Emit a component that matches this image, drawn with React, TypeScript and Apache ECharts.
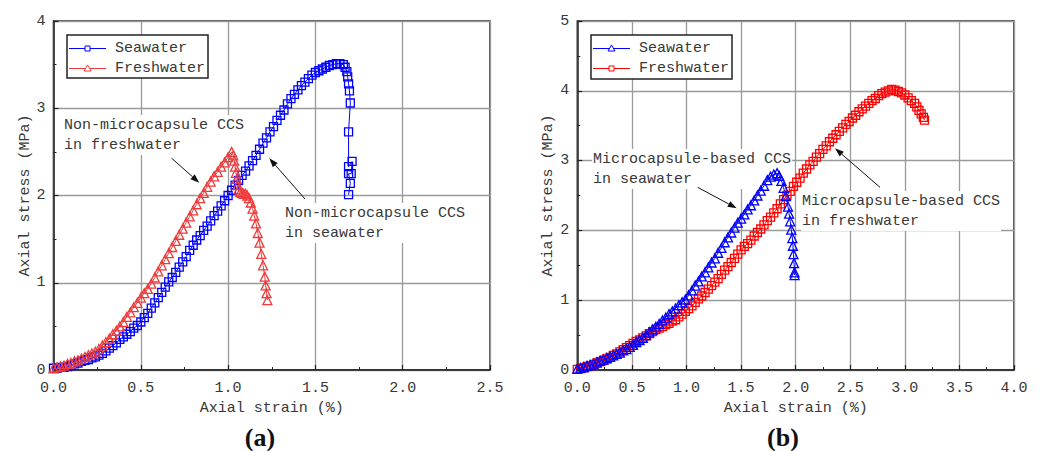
import React, { useEffect, useRef } from "react";
import * as echarts from "echarts";

// ---------- data (strain %, stress MPa) ----------
const seaA: number[][] = [
  [0.00,0.02],[0.02,0.02],[0.04,0.03],[0.06,0.03],[0.08,0.04],[0.10,0.05],[0.12,0.07],[0.14,0.08],[0.16,0.10],[0.18,0.11],
  [0.20,0.12],[0.22,0.14],[0.24,0.15],[0.26,0.17],[0.28,0.19],[0.30,0.22],[0.32,0.25],[0.34,0.28],[0.36,0.31],[0.38,0.35],
  [0.40,0.38],[0.42,0.41],[0.44,0.44],[0.46,0.48],[0.48,0.51],[0.50,0.55],[0.52,0.60],[0.54,0.65],[0.56,0.71],[0.58,0.77],
  [0.60,0.83],[0.62,0.89],[0.64,0.95],[0.66,1.01],[0.68,1.06],[0.70,1.12],[0.72,1.18],[0.74,1.24],[0.76,1.30],[0.78,1.37],
  [0.80,1.43],[0.82,1.49],[0.84,1.54],[0.86,1.60],[0.88,1.65],[0.90,1.71],[0.92,1.77],[0.94,1.82],[0.96,1.88],[0.98,1.94],
  [1.00,2.00],[1.02,2.06],[1.04,2.12],[1.06,2.17],[1.08,2.23],[1.10,2.28],[1.12,2.34],[1.14,2.40],[1.16,2.46],[1.18,2.53],
  [1.20,2.60],[1.22,2.66],[1.24,2.73],[1.26,2.79],[1.28,2.86],[1.30,2.92],[1.32,2.98],[1.34,3.05],[1.36,3.11],[1.38,3.16],
  [1.40,3.21],[1.42,3.26],[1.44,3.30],[1.46,3.34],[1.48,3.38],[1.50,3.41],[1.52,3.43],[1.54,3.45],[1.56,3.47],[1.58,3.49],
  [1.60,3.50],[1.62,3.51],[1.64,3.51],[1.66,3.50],[1.67,3.47],[1.68,3.42],[1.685,3.36],[1.69,3.28],[1.695,3.20],[1.70,3.06],
  [1.69,2.73],[1.69,2.33],[1.71,2.39],[1.705,2.25],[1.69,2.25],[1.70,2.14],[1.69,2.01]
];
const freshA: number[][] = [
  [0.00,0.02],[0.02,0.03],[0.04,0.04],[0.06,0.05],[0.08,0.07],[0.10,0.08],[0.12,0.10],[0.14,0.11],[0.16,0.13],[0.18,0.15],
  [0.20,0.17],[0.22,0.19],[0.24,0.21],[0.26,0.24],[0.28,0.28],[0.30,0.32],[0.32,0.36],[0.34,0.41],[0.36,0.45],[0.38,0.50],
  [0.40,0.55],[0.42,0.61],[0.44,0.66],[0.46,0.72],[0.48,0.77],[0.50,0.83],[0.52,0.88],[0.54,0.93],[0.56,0.99],[0.58,1.06],
  [0.60,1.13],[0.62,1.20],[0.64,1.27],[0.66,1.34],[0.68,1.41],[0.70,1.48],[0.72,1.55],[0.74,1.62],[0.76,1.69],[0.78,1.76],
  [0.80,1.83],[0.82,1.90],[0.84,1.97],[0.86,2.03],[0.88,2.10],[0.90,2.16],[0.92,2.22],[0.94,2.27],[0.96,2.33],[0.98,2.38],
  [1.00,2.44],[1.02,2.50],[1.03,2.46],[1.035,2.40],[1.04,2.33],[1.045,2.26],[1.05,2.19],[1.055,2.12],[1.06,2.07],[1.07,2.04],
  [1.08,2.03],[1.09,2.02],[1.10,2.02],[1.11,2.00],[1.12,1.97],[1.13,1.92],[1.14,1.85],[1.15,1.77],[1.16,1.68],[1.17,1.57],
  [1.18,1.46],[1.19,1.33],[1.20,1.20],[1.21,1.07],[1.215,0.97],[1.22,0.88],[1.225,0.80]
];
const seaB: number[][] = [
  [0.00,0.02],[0.03,0.03],[0.06,0.04],[0.09,0.06],[0.12,0.07],[0.15,0.09],[0.18,0.11],[0.21,0.13],[0.24,0.15],[0.27,0.17],
  [0.30,0.19],[0.33,0.21],[0.36,0.23],[0.39,0.25],[0.42,0.28],[0.45,0.30],[0.48,0.33],[0.51,0.36],[0.54,0.40],[0.57,0.43],
  [0.60,0.46],[0.63,0.50],[0.66,0.54],[0.69,0.58],[0.72,0.62],[0.75,0.66],[0.78,0.71],[0.81,0.75],[0.84,0.80],[0.87,0.84],
  [0.90,0.88],[0.93,0.93],[0.96,0.97],[0.99,1.01],[1.02,1.07],[1.05,1.14],[1.08,1.21],[1.11,1.27],[1.14,1.34],[1.17,1.40],
  [1.20,1.47],[1.23,1.54],[1.26,1.60],[1.29,1.68],[1.32,1.75],[1.35,1.83],[1.38,1.90],[1.41,1.97],[1.44,2.04],[1.47,2.11],
  [1.50,2.17],[1.53,2.23],[1.56,2.30],[1.59,2.36],[1.62,2.43],[1.65,2.50],[1.68,2.57],[1.71,2.64],[1.74,2.72],[1.77,2.77],
  [1.80,2.80],[1.83,2.82],[1.85,2.78],[1.87,2.71],[1.89,2.61],[1.91,2.49],[1.93,2.34],[1.94,2.24],[1.95,2.13],[1.96,2.01],
  [1.97,1.89],[1.975,1.78],[1.98,1.66],[1.985,1.53],[1.99,1.40],[1.99,1.36]
];
const freshB: number[][] = [
  [0.00,0.01],[0.03,0.02],[0.06,0.03],[0.09,0.05],[0.12,0.06],[0.15,0.08],[0.18,0.10],[0.21,0.12],[0.24,0.14],[0.27,0.16],
  [0.30,0.18],[0.33,0.21],[0.36,0.23],[0.39,0.26],[0.42,0.29],[0.45,0.32],[0.48,0.35],[0.51,0.38],[0.54,0.41],[0.57,0.43],
  [0.60,0.46],[0.63,0.49],[0.66,0.52],[0.69,0.55],[0.72,0.58],[0.75,0.60],[0.78,0.62],[0.81,0.65],[0.84,0.67],[0.87,0.70],
  [0.90,0.72],[0.93,0.76],[0.96,0.80],[0.99,0.84],[1.02,0.88],[1.05,0.92],[1.08,0.97],[1.11,1.02],[1.14,1.06],[1.17,1.11],
  [1.20,1.16],[1.23,1.21],[1.26,1.26],[1.29,1.31],[1.32,1.37],[1.35,1.43],[1.38,1.48],[1.41,1.54],[1.44,1.60],[1.47,1.66],
  [1.50,1.72],[1.53,1.77],[1.56,1.81],[1.59,1.86],[1.62,1.92],[1.65,1.97],[1.68,2.02],[1.71,2.08],[1.74,2.14],[1.77,2.19],
  [1.80,2.25],[1.83,2.31],[1.86,2.38],[1.89,2.44],[1.92,2.50],[1.95,2.56],[1.98,2.63],[2.01,2.69],[2.04,2.75],[2.07,2.82],
  [2.10,2.88],[2.13,2.94],[2.16,2.99],[2.19,3.05],[2.22,3.10],[2.25,3.16],[2.28,3.21],[2.31,3.27],[2.34,3.32],[2.37,3.37],
  [2.40,3.42],[2.43,3.47],[2.46,3.52],[2.49,3.56],[2.52,3.61],[2.55,3.65],[2.58,3.70],[2.61,3.74],[2.64,3.78],[2.67,3.82],
  [2.70,3.86],[2.73,3.89],[2.76,3.93],[2.79,3.96],[2.82,3.98],[2.85,4.00],[2.88,4.02],[2.91,4.01],[2.94,3.99],[2.97,3.97],
  [3.00,3.94],[3.03,3.90],[3.06,3.86],[3.09,3.82],[3.11,3.77],[3.13,3.72],[3.15,3.67],[3.17,3.62],[3.18,3.58]
];

const seriesNames = ["Seawater", "Freshwater"];
const xAxisName = "Axial strain (%)";
const yAxisName = "Axial stress (MPa)";
const panelLabels = ["(a)", "(b)"];
const notesA = ["Non-microcapsule CCS\nin freshwater", "Non-microcapsule CCS\nin seawater"];
const notesB = ["Microcapsule-based CCS\nin seawater", "Microcapsule-based CCS\nin freshwater"];

const BLUE = "#0000ff";
const RED_A = "#ee3b3b";
const RED_B = "#ff0000";
const TXT = "#383838";
const FONT = '15px "Liberation Mono", "DejaVu Sans Mono", monospace';

function arrow(x1: number, y1: number, x2: number, y2: number) {
  const dx = x2 - x1, dy = y2 - y1;
  const len = Math.sqrt(dx * dx + dy * dy);
  const ux = dx / len, uy = dy / len;
  const hl = 9, hw = 3.2;
  const bx = x2 - ux * hl, by = y2 - uy * hl;
  return {
    type: "group",
    z: 6,
    children: [
      { type: "line", z: 6, shape: { x1, y1, x2: bx, y2: by }, style: { stroke: "#111", lineWidth: 1 } },
      {
        type: "polygon", z: 6,
        shape: { points: [[x2, y2], [bx - uy * hw, by + ux * hw], [bx + uy * hw, by - ux * hw]] },
        style: { fill: "#111" },
      },
    ],
  };
}

function note(x: number, y: number, text: string) {
  return {
    type: "text", x, y, z: 1,
    style: {
      text, font: FONT, fill: TXT, lineHeight: 20,
      backgroundColor: "#fff", padding: [0, 1], verticalAlign: "top", align: "left",
    },
  };
}

function legend(x: number, y: number, w: number, h: number, items: { color: string; shape: string }[]) {
  const children: any[] = [
    { type: "rect", shape: { x, y, width: w, height: h }, style: { fill: "#fff", stroke: "#222", lineWidth: 1.5 }, z: 10 },
  ];
  items.forEach((it, i) => {
    const cy = y + 13.5 + i * 20;
    const lx1 = x + 2, lx2 = x + 39, cx = (lx1 + lx2) / 2;
    children.push({ type: "line", z: 11, shape: { x1: lx1, y1: cy, x2: lx2, y2: cy }, style: { stroke: it.color, lineWidth: 1.2 } });
    if (it.shape === "rect") {
      children.push({ type: "rect", z: 12, shape: { x: cx - 2.5, y: cy - 2.5, width: 5, height: 5 }, style: { fill: "#fff", stroke: it.color, lineWidth: 1 } });
    } else {
      children.push({ type: "polygon", z: 12, shape: { points: [[cx, cy - 3.5], [cx - 3.5, cy + 2.5], [cx + 3.5, cy + 2.5]] }, style: { fill: "#fff", stroke: it.color, lineWidth: 1 } });
    }
    children.push({ type: "text", z: 12, x: x + 48, y: cy, style: { text: seriesNames[i], font: FONT, fill: TXT, verticalAlign: "middle", align: "left" } });
  });
  return { type: "group", children };
}

function makeSeries(name: string, data: number[][], idx: number, color: string, symbol: string, size: number) {
  return {
    name, type: "line", data, xAxisIndex: idx, yAxisIndex: idx, z: 2,
    symbol, symbolSize: size, showAllSymbol: true,
    lineStyle: { color, width: 1 },
    itemStyle: { color: "rgba(255,255,255,0)", borderColor: color, borderWidth: 1.3 },
    emphasis: { disabled: true },
  };
}

function xAxisCfg(idx: number, max: number) {
  return {
    type: "value", gridIndex: idx, min: 0, max, interval: 0.5,
    name: xAxisName, nameLocation: "middle", nameGap: 29,
    nameTextStyle: { fontFamily: '"Liberation Mono", monospace', fontSize: 15, color: TXT },
    axisLine: { show: true, onZero: false, lineStyle: { color: "#222", width: 1.5 } },
    axisTick: { show: true, inside: true, length: 5, lineStyle: { color: "#222", width: 1.2 } },
    minorTick: { show: true, splitNumber: 2, length: 3, lineStyle: { color: "#222", width: 1 } },
    axisLabel: { fontFamily: '"Liberation Mono", monospace', fontSize: 15, color: TXT, margin: 11, formatter: (v: number) => v.toFixed(1) },
    splitLine: { show: true, lineStyle: { color: "#9a9a9a", width: 1.3 } },
  };
}
function yAxisCfg(idx: number, max: number) {
  return {
    type: "value", gridIndex: idx, min: 0, max, interval: 1,
    name: yAxisName, nameLocation: "middle", nameGap: 21,
    nameTextStyle: { fontFamily: '"Liberation Mono", monospace', fontSize: 15, color: TXT },
    axisLine: { show: true, onZero: false, lineStyle: { color: "#222", width: 1.5 } },
    axisTick: { show: true, inside: true, length: 5, lineStyle: { color: "#222", width: 1.2 } },
    minorTick: { show: true, splitNumber: 2, length: 3, lineStyle: { color: "#222", width: 1 } },
    axisLabel: { fontFamily: '"Liberation Mono", monospace', fontSize: 15, color: TXT, margin: 8 },
    splitLine: { show: true, lineStyle: { color: "#9a9a9a", width: 1.3 } },
  };
}

export default function App() {
  const ref = useRef<HTMLDivElement>(null);
  useEffect(() => {
    if (!ref.current) return;
    const chart = echarts.init(ref.current, undefined, { renderer: "svg" });
    const gridBase = { top: 21, height: 349, width: 436.5, show: true, borderColor: "#222", borderWidth: 1.5, backgroundColor: "transparent", containLabel: false, outerBoundsMode: "none" };
    chart.setOption({
      animation: false,
      backgroundColor: "#fff",
      grid: [
        { ...gridBase, left: 53.5 },
        { ...gridBase, left: 577.3, width: 436.7 },
      ],
      xAxis: [xAxisCfg(0, 2.5), xAxisCfg(1, 4.0)],
      yAxis: [yAxisCfg(0, 4), yAxisCfg(1, 5)],
      series: [
        makeSeries(seriesNames[0], seaA, 0, BLUE, "rect", 8),
        makeSeries(seriesNames[1], freshA, 0, RED_A, "triangle", 9),
        makeSeries(seriesNames[1], freshB, 1, RED_B, "rect", 8),
        makeSeries(seriesNames[0], seaB, 1, BLUE, "triangle", 9),
      ],
      graphic: [
        note(63, 115, notesA[0]),
        note(284, 203, notesA[1]),
        note(592, 149, notesB[0]),
        note(801, 191, notesB[1]),
        arrow(171.7, 158.3, 199.3, 182.7),
        arrow(305, 199, 269.3, 158.3),
        arrow(697.7, 187.3, 736.7, 208.3),
        arrow(880, 187.3, 835, 148.3),
        legend(67, 35, 141, 43, [{ color: BLUE, shape: "rect" }, { color: RED_A, shape: "tri" }]),
        legend(591, 35, 141, 44, [{ color: BLUE, shape: "tri" }, { color: RED_B, shape: "rect" }]),
        { type: "text", x: 260, y: 437, style: { text: panelLabels[0], font: 'bold 26px "Liberation Serif", serif', fill: "#111", align: "center", verticalAlign: "middle" } },
        { type: "text", x: 783, y: 437, style: { text: panelLabels[1], font: 'bold 26px "Liberation Serif", serif', fill: "#111", align: "center", verticalAlign: "middle" } },
      ],
    });
    return () => chart.dispose();
  }, []);
  return <div ref={ref} style={{ position: "absolute", left: 0, top: 0, width: 1040, height: 451 }} />;
}
